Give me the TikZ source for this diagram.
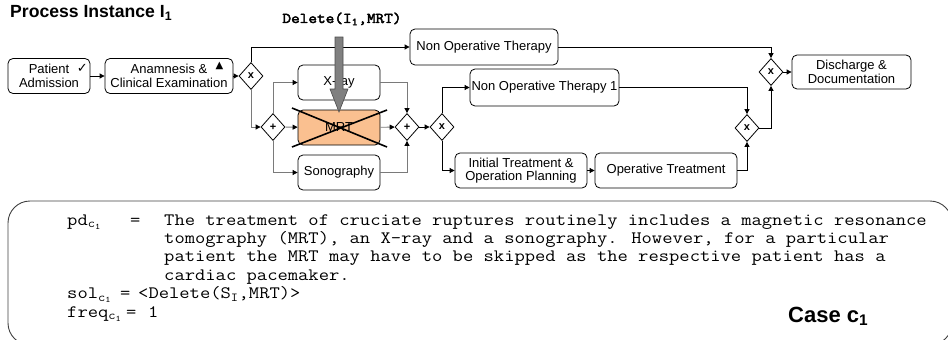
\documentclass[tikz,border=0pt]{standalone}
\usepackage{fontspec}
\setmainfont{Liberation Sans}
\setmonofont{Liberation Mono}
\newfontfamily\symfont{DejaVu Sans}
\newfontfamily\courfont{Latin Modern Mono}[FakeStretch=1.15]
\newfontfamily\courbold{Latin Modern Mono}[FakeStretch=1.12, FakeBold=3]
\usetikzlibrary{arrows.meta}
\usetikzlibrary{shapes.geometric}
\usetikzlibrary{positioning}
\definecolor{mrtorange}{HTML}{FAC090}
\definecolor{linegray}{HTML}{7A7A7A}
\definecolor{arrowgray}{HTML}{808080}
\newcommand{\csub}{\textsubscript{c\textsubscript{1}}}

\tikzset{
  task/.style={draw, rounded corners=5pt, align=center, inner sep=0pt, line width=0.8pt,
    font=\fontsize{13}{13.5}\selectfont, minimum height=35pt},
  gate/.style={draw, diamond, inner sep=0pt, minimum width=24pt, minimum height=27pt,
    line width=0.8pt, fill=white, font=\bfseries\fontsize{11}{11}\selectfont},
  flow/.style={line width=0.8pt, -{Triangle[length=5pt,width=5pt,color=black]}},
  pflow/.style={flow, draw=linegray},
  doc/.style={inner sep=0pt, anchor=base west, font=\courfont\fontsize{17.4}{18.4}\selectfont},
  tick/.style={inner sep=0pt, font=\symfont\fontsize{13}{13}\selectfont},
}

\begin{document}
\begin{tikzpicture}[x=1pt,y=-1pt]
				\useasboundingbox (0,0) rectangle (948,340);
				% title and change operation
				\node[anchor=base west, inner sep=0pt, font=\bfseries\fontsize{17.6}{18}\selectfont] (title) at (10,17.5) {Process Instance I\textsubscript{1}};
				\node[anchor=base, inner sep=0pt, font=\courbold\fontsize{15}{15}\selectfont] (delop) at (342,23) {Delete(I\textsubscript{1},MRT)};
				% activities
				\node[task, minimum width=82pt] (admit) at (49,76) {Patient\\Admission};
				\node[task, minimum width=128pt] (anam) at (169,76) {Anamnesis \&\\Clinical Examination};
				\node[task, minimum width=148pt, minimum height=36pt] (nonop) at (484,47) {Non Operative Therapy};
				\node[task, minimum width=82pt] (xray) at (339,82.5) {X-ray};
				\node[task, minimum width=82pt, fill=mrtorange] (mrt) at (339,127.5) {MRT};
				\node[task, minimum width=82pt] (sono) at (339,172.5) {Sonography};
				\node[task, minimum width=149pt, minimum height=37pt] (nonopa) at (544.5,87.5) {Non Operative Therapy 1};
				\node[task, minimum width=132pt] (init) at (521,170.5) {Initial Treatment \&\\Operation Planning};
				\node[task, minimum width=142pt] (optreat) at (666,170.5) {Operative Treatment};
				\node[task, minimum width=119pt, minimum height=34pt] (disch) at (851.5,72) {Discharge \&\\Documentation};
				% state marks
				\node[tick] (done) at ([xshift=-8pt,yshift=-10pt]admit.north east) {✓};
				\node[tick, font=\symfont\fontsize{10}{10}\selectfont] (run) at ([xshift=-14pt,yshift=-8pt]anam.north east) {▲};
				% gateways
				\node[gate] (xsplit) at (251,76) {x};
				\node[gate] (asplit) at (273,127) {+};
				\node[gate] (ajoin) at (407,127) {+};
				\node[gate] (xsplitb) at (442,127) {x};
				\node[gate] (xjoinb) at (747,128) {x};
				\node[gate] (xjoin) at (771,72) {x};
				% control flow
				\draw[flow] (admit) -- (anam);
				\draw[flow] (anam) -- (xsplit);
				\draw[flow] (xsplit.north) |- (nonop.west);
				\draw[pflow] (xsplit.south) |- (asplit.west);
				\draw[pflow] (asplit.north) |- (xray.west);
				\draw[pflow] (asplit) -- (mrt);
				\draw[pflow] (asplit.south) |- (sono.west);
				\draw[pflow] (xray.east) -| (ajoin.north);
				\draw[pflow] (mrt) -- (ajoin);
				\draw[pflow] (sono.east) -| (ajoin.south);
				\draw[flow] (ajoin) -- (xsplitb);
				\draw[flow] (xsplitb.north) |- (nonopa.west);
				\draw[flow] (xsplitb.south) |- (init.west);
				\draw[flow] (init) -- (optreat);
				\draw[flow] (nonopa.east) -| (xjoinb.north);
				\draw[flow] (optreat.east) -| (xjoinb.south);
				\draw[flow] (nonop.east) -| (xjoin.north);
				\draw[flow] (xjoinb.east) -| (xjoin.south);
				\draw[flow] (xjoin) -- (disch);
				% deletion of MRT
				\filldraw[fill=arrowgray, draw=black!70, line width=0.6pt] (335,37) -- (343,37) -- (343,89) -- (348,89) -- (339,112) -- (330,89) -- (335,89) -- cycle;
				\draw[line width=1.6pt] (292,108) -- (387,147);
				\draw[line width=1.6pt] (292,147) -- (387,110);
				% case description
				\begin{scope}
					\clip (0,0) rectangle (948,340);
					\draw[black!75, line width=0.9pt, rounded corners=22pt] (8,201) rectangle (952,345);
				\end{scope}
				\node[doc] (pdlab) at (67,225) {pd\csub};
				\node[doc] (pdeq) at (130,225) {=};
				\node[doc] (pda) at (164,225) {The treatment of cruciate ruptures routinely includes a magnetic resonance};
				\node[doc] (pdb) at (164,243.4) {tomography (MRT), an X-ray and a sonography. However, for a particular};
				\node[doc] (pdc) at (164,261.8) {patient the MRT may have to be skipped as the respective patient has a};
				\node[doc] (pdd) at (164,280.2) {cardiac pacemaker.};
				\node[doc] (sollab) at (67,298.6) {sol\csub};
				\node[doc] (soleq) at (120,298.6) {=};
				\node[doc] (solval) at (138,298.6) {<Delete(S\textsubscript{I},MRT)>};
				\node[doc] (freqlab) at (67,317) {freq\csub};
				\node[doc] (freqeq) at (126,317) {=};
				\node[doc] (freqval) at (148,317) {1};
				\node[anchor=base west, inner sep=0pt, font=\bfseries\fontsize{22}{24}\selectfont] (case) at (788,322) {Case c\textsubscript{1}};
			\end{tikzpicture}
\end{document}
